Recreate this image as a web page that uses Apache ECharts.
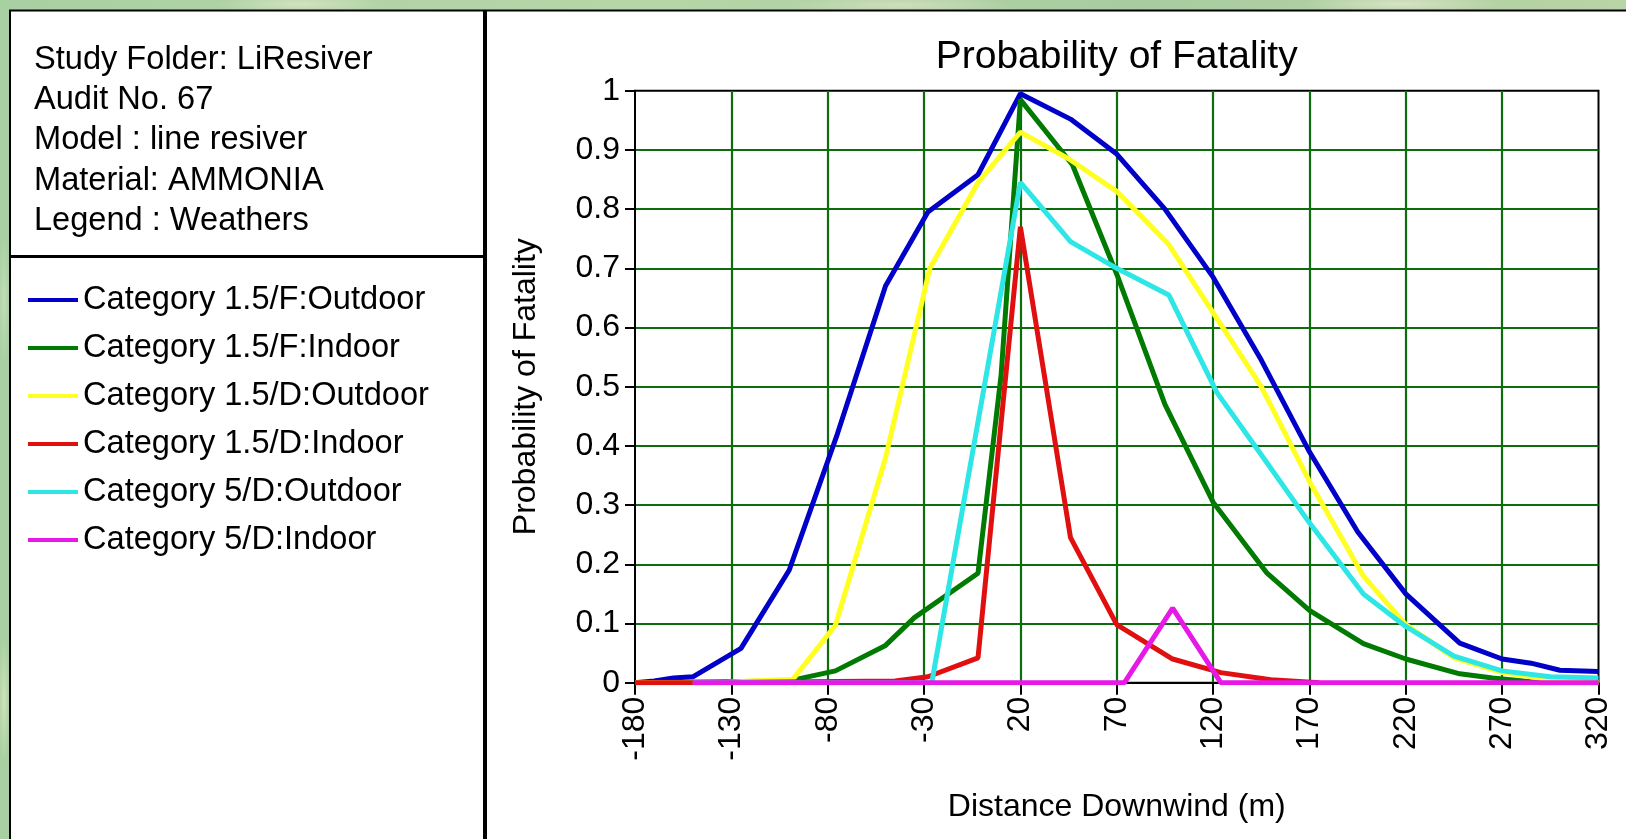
<!DOCTYPE html>
<html>
<head>
<meta charset="utf-8">
<script src="https://cdn.jsdelivr.net/npm/echarts@6/dist/echarts.min.js"></script>
<style>
html,body{margin:0;padding:0;width:1626px;height:839px;overflow:hidden;}
body{
  background:
    radial-gradient(ellipse 120px 14px at 300px 4px, rgba(220,230,200,0.8), rgba(220,230,200,0) 70%),
    radial-gradient(ellipse 160px 14px at 900px 5px, rgba(215,225,195,0.8), rgba(215,225,195,0) 70%),
    radial-gradient(ellipse 140px 14px at 1400px 4px, rgba(225,232,205,0.8), rgba(225,232,205,0) 70%),
    radial-gradient(ellipse 8px 90px at 4px 300px, rgba(200,225,190,0.8), rgba(200,225,190,0) 70%),
    radial-gradient(ellipse 8px 90px at 4px 700px, rgba(215,230,190,0.8), rgba(215,230,190,0) 70%),
    linear-gradient(90deg, #a9d0a2, #b7d6a8 40%, #a8cca0 70%, #b9d4a6);
}
#chart{width:1626px;height:839px;}
</style>
</head>
<body>
<div id="chart"></div>
<script>
// ---- data (distance in m, probability of fatality) ----
const seriesNames = [
  'Category 1.5/F:Outdoor',
  'Category 1.5/F:Indoor',
  'Category 1.5/D:Outdoor',
  'Category 1.5/D:Indoor',
  'Category 5/D:Outdoor',
  'Category 5/D:Indoor'
];
const seriesColors = ['#0000c8', '#007a00', '#ffff22', '#e01010', '#2ee6e6', '#e619e6'];

const cat15FOutdoor = [[-180,0],[-170,0.003],[-160,0.008],[-150,0.01],[-125,0.058],[-100,0.19],[-75,0.42],[-50,0.67],[-28,0.795],[-2,0.858],[20,0.995],[46,0.952],[70,0.893],[95,0.80],[120,0.685],[145,0.545],[170,0.39],[195,0.255],[220,0.15],[248,0.067],[270,0.04],[285,0.033],[300,0.021],[320,0.019]];
const cat15FIndoor = [[-180,0],[-100,0.003],[-76,0.02],[-50,0.063],[-35,0.11],[-2,0.185],[10,0.52],[20,0.985],[47,0.875],[70,0.69],[95,0.47],[120,0.305],[148,0.185],[170,0.122],[198,0.066],[220,0.04],[248,0.015],[265,0.008],[290,0],[320,0]];
const cat15DOutdoor = [[-180,0],[-135,0],[-120,0.003],[-98,0.006],[-76,0.097],[-50,0.38],[-27,0.70],[-2,0.845],[20,0.93],[45,0.885],[70,0.83],[97,0.74],[120,0.625],[145,0.5],[170,0.34],[198,0.18],[220,0.098],[245,0.042],[270,0.017],[295,0.005],[320,0]];
const cat15DIndoor = [[-180,0],[-150,0],[-45,0.003],[-28,0.01],[-2,0.042],[20,0.77],[46,0.245],[70,0.098],[99,0.04],[124,0.017],[150,0.005],[175,0]];
const cat5DOutdoor = [[-150,0],[-26,0],[20,0.845],[46,0.745],[70,0.70],[97,0.655],[122,0.49],[145,0.385],[170,0.27],[198,0.15],[220,0.095],[245,0.045],[270,0.02],[295,0.01],[320,0.008]];
const cat5DIndoor = [[-150,0],[74,0],[99,0.126],[124,0],[320,0]];

const infoLines = [
  'Study Folder: LiResiver',
  'Audit No. 67',
  'Model : line resiver',
  'Material: AMMONIA',
  'Legend : Weathers'
];
const chartTitle = 'Probability of Fatality';
const xAxisName = 'Distance Downwind (m)';
const yAxisName = 'Probability of Fatality';

const allSeriesData = [cat15FOutdoor, cat15FIndoor, cat15DOutdoor, cat15DIndoor, cat5DOutdoor, cat5DIndoor];

const FONT = "'Liberation Sans', Arial, sans-serif";
const chart = echarts.init(document.getElementById('chart'), null, {renderer: 'canvas'});

const option = {
  animation: false,
  backgroundColor: 'transparent',
  graphic: [
    { type: 'rect', z: -10, shape: {x: 10, y: 10.5, width: 474, height: 900},
      style: {fill: '#ffffff', stroke: '#000', lineWidth: 2} },
    { type: 'rect', z: -10, shape: {x: 486, y: 10.5, width: 1200, height: 900},
      style: {fill: '#ffffff', stroke: '#000', lineWidth: 2} },
    { type: 'line', z: -9, shape: {x1: 10, y1: 256.5, x2: 484, y2: 256.5},
      style: {stroke: '#000', lineWidth: 3} },
    { type: 'text', z: 5, x: 34, y: 39.5,
      style: {text: infoLines.join('\n'), font: '32.6px ' + FONT, fill: '#000',
              lineHeight: 40.4, verticalAlign: 'top', align: 'left'} }
  ],
  title: {
    text: chartTitle,
    left: 1116.7,
    top: 38,
    textAlign: 'center',
    padding: 0,
    textStyle: {fontFamily: FONT, fontSize: 39, fontWeight: 'normal', color: '#000', lineHeight: 39}
  },
  legend: {
    data: seriesNames,
    orient: 'vertical',
    left: 28,
    top: 276,
    padding: 0,
    icon: 'rect',
    itemWidth: 50,
    itemHeight: 4,
    itemGap: 0,
    selectedMode: false,
    textStyle: {fontFamily: FONT, fontSize: 32.6, color: '#000', lineHeight: 48}
  },
  grid: {
    left: 635, top: 90.7, width: 963.5, height: 592,
    show: true, borderColor: '#000', borderWidth: 2, backgroundColor: '#fff'
  },
  xAxis: {
    type: 'value',
    min: -180, max: 320, interval: 50,
    axisLine: {show: true, onZero: false, lineStyle: {color: '#000', width: 2}},
    axisTick: {show: true, length: 12, lineStyle: {color: '#000', width: 2}},
    axisLabel: {rotate: 90, margin: 14, fontFamily: FONT, fontSize: 32, color: '#000'},
    splitLine: {show: true, showMinLine: false, showMaxLine: false, lineStyle: {color: '#0b6e0b', width: 2.2}},
    name: xAxisName,
    nameLocation: 'middle',
    nameGap: 108,
    nameTextStyle: {fontFamily: FONT, fontSize: 32, color: '#000'}
  },
  yAxis: {
    type: 'value',
    min: 0, max: 1, interval: 0.1,
    axisLine: {show: true, onZero: false, lineStyle: {color: '#000', width: 2}},
    axisTick: {show: true, length: 10, lineStyle: {color: '#000', width: 2}},
    axisLabel: {margin: 15, fontFamily: FONT, fontSize: 32, color: '#000'},
    splitLine: {show: true, showMinLine: false, showMaxLine: false, lineStyle: {color: '#0b6e0b', width: 2.2}},
    name: yAxisName,
    nameLocation: 'middle',
    nameGap: 93,
    nameTextStyle: {fontFamily: FONT, fontSize: 32, color: '#000'}
  },
  series: seriesNames.map((name, i) => ({
    name: name,
    type: 'line',
    data: allSeriesData[i],
    symbol: 'none',
    showSymbol: false,
    color: seriesColors[i],
    lineStyle: {width: 5, color: seriesColors[i]},
    z: 2 + i
  }))
};
chart.setOption(option);
</script>
</body>
</html>
